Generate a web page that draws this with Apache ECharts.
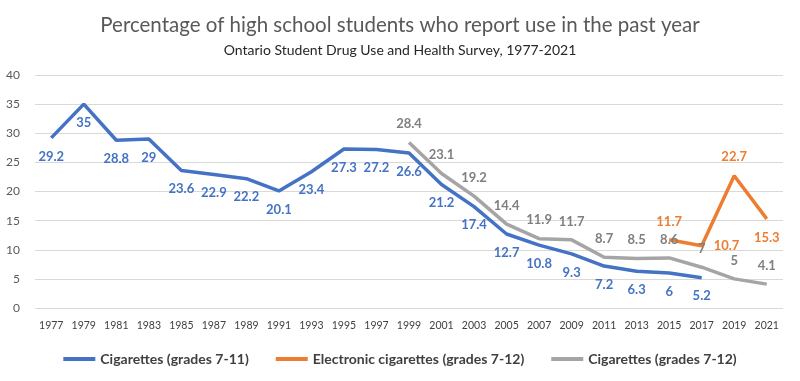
<!DOCTYPE html>
<html><head><meta charset="utf-8">
<script src="https://cdn.jsdelivr.net/npm/echarts@6/dist/echarts.min.js"></script>
<style>html,body{margin:0;padding:0;background:#fff}#c{width:800px;height:381px}</style>
</head><body><div id="c"></div>
<script>
const years = ['1977','1979','1981','1983','1985','1987','1989','1991','1993','1995','1997','1999','2001','2003','2005','2007','2009','2011','2013','2015','2017','2019','2021'];
const cig711 = [29.2,35,28.8,29,23.6,22.9,22.2,20.1,23.4,27.3,27.2,26.6,21.2,17.4,12.7,10.8,9.3,7.2,6.3,6,5.2,null,null];
const ecig712 = [null,null,null,null,null,null,null,null,null,null,null,null,null,null,null,null,null,null,null,11.7,10.7,22.7,15.3];
const cig712 = [null,null,null,null,null,null,null,null,null,null,null,28.4,23.1,19.2,14.4,11.9,11.7,8.7,8.5,8.6,7,5,4.1];
const ecigLabelPos = [null,null,null,null,null,null,null,null,null,null,null,null,null,null,null,null,null,null,null,'top','right','top','bottom'];

const FONT = 'Lato, "Open Sans", sans-serif';
const chart = echarts.init(document.getElementById('c'));
function lbl(pos, color){
  return {show:true, position:pos, distance:12, color:color, fontFamily:FONT, fontSize:13, fontWeight:'bold'};
}
const common = {type:'line', symbol:'circle', symbolSize:0.01, showSymbol:true, showAllSymbol:true, connectNulls:false};
chart.setOption({
  animation:false,
  title:[{text:'Percentage of high school students who report use in the past year', left:'center', top:10,
          textStyle:{fontFamily:FONT, fontSize:20.5, fontWeight:'normal', color:'#595959'}},
         {text:'Ontario Student Drug Use and Health Survey, 1977-2021', left:'center', top:38,
          textStyle:{fontFamily:FONT, fontSize:14, fontWeight:'normal', color:'#262626'}}],
  grid:{left:35, right:17, top:75, bottom:73},
  legend:{top:347, left:'center', itemWidth:32, itemHeight:4, itemGap:27, icon:'rect',
          textStyle:{fontFamily:FONT, fontSize:14, color:'#404040', fontWeight:'bold'}},
  xAxis:{type:'category', data:years, boundaryGap:true,
         axisLine:{show:false}, axisTick:{show:false},
         axisLabel:{interval:0, fontFamily:FONT, fontSize:10.5, color:'#404040', margin:12}},
  yAxis:{type:'value', min:0, max:40, interval:5,
         axisLabel:{fontFamily:FONT, fontSize:12, color:'#595959', margin:15},
         splitLine:{lineStyle:{color:'#d9d9d9', width:1}}},
  series:[
    Object.assign({}, common, {name:'Cigarettes (grades 7-11)', data:cig711,
     lineStyle:{color:'#4472C4', width:3.5}, itemStyle:{color:'#4472C4'},
     label:lbl('bottom','#4472C4')}),
    Object.assign({}, common, {name:'Electronic cigarettes (grades 7-12)',
     data:ecig712.map((v,i)=> v==null? null : {value:v, label:lbl(ecigLabelPos[i],'#ED7D31')}),
     lineStyle:{color:'#ED7D31', width:3.5}, itemStyle:{color:'#ED7D31'},
     label:lbl('top','#ED7D31')}),
    Object.assign({}, common, {name:'Cigarettes (grades 7-12)', data:cig712,
     lineStyle:{color:'#A5A5A5', width:3.5}, itemStyle:{color:'#A5A5A5'},
     label:lbl('top','#7F7F7F')})
  ]
});
</script></body></html>
